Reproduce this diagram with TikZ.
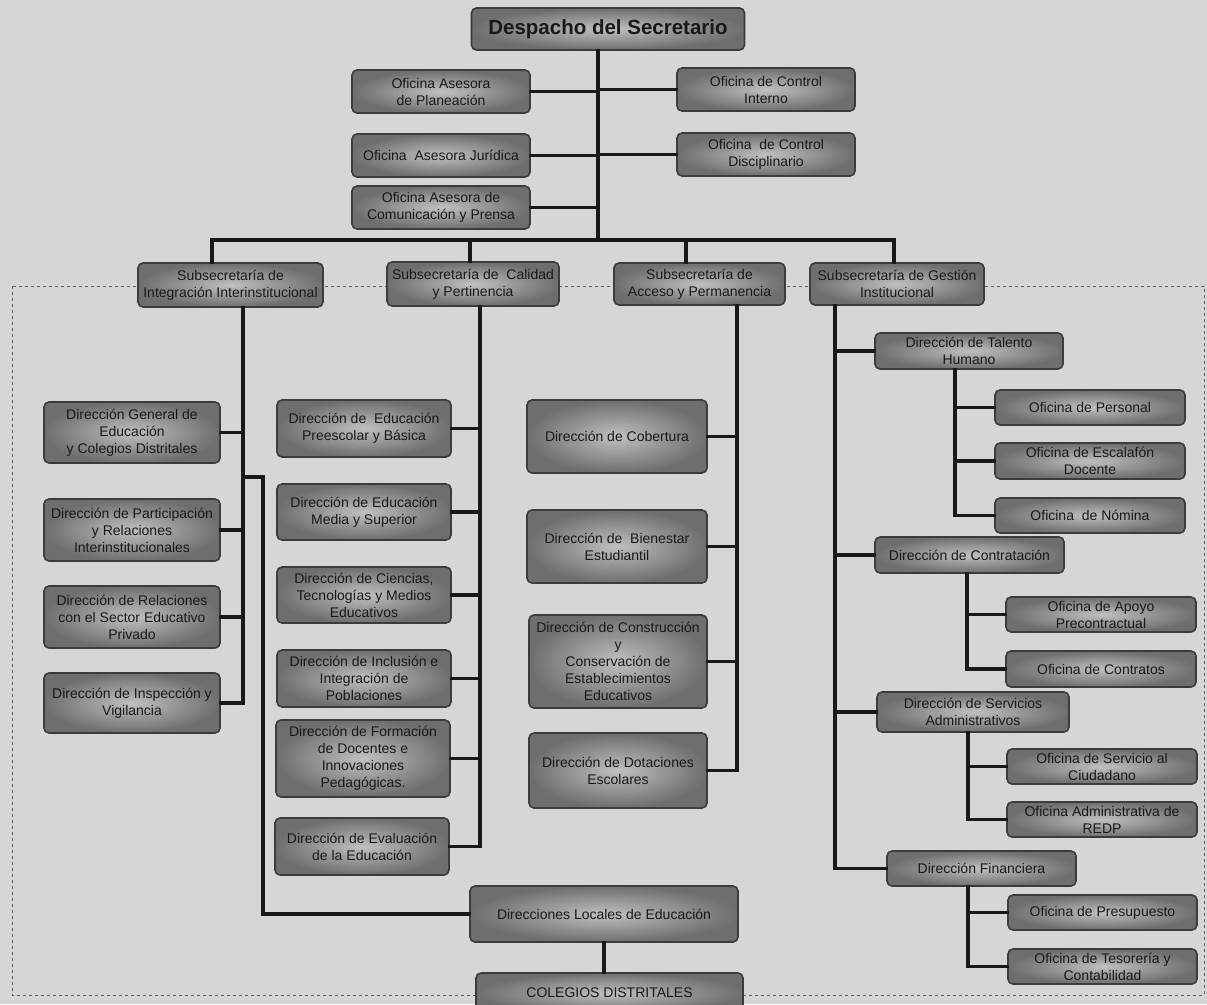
\documentclass[tikz,border=0pt]{standalone}
\usepackage{fontspec}
\setmainfont{Liberation Sans}
\usepackage{tikz}
\definecolor{paper}{RGB}{214,214,212}
\definecolor{boxin}{RGB}{192,192,192}
\definecolor{boxout}{RGB}{110,110,110}
\definecolor{ink}{RGB}{25,25,25}

\begin{document}
\begin{tikzpicture}[x=1pt, y=-1pt,
		box/.style={draw=ink!85, line width=1.6pt, rounded corners=5pt, inner color=boxin, outer color=boxout,
			align=center, text=ink, inner sep=1pt, font=\fontsize{14}{17}\selectfont},
		wire/.style={draw=ink, line width=3.2pt, line cap=rect},
		frame/.style={draw=ink!70, dashed, line width=0.9pt}]
				
				\fill[paper] (0,0) rectangle (1207,1004);
				\useasboundingbox (0,0) rectangle (1207,1004);
				\draw[frame] (12,286) rectangle (1204,995);
				
				% despacho y oficinas asesoras
				\node[box, minimum width=273, minimum height=42, font=\fontsize{20.5}{24}\bfseries] (despacho) at (608,29) {Despacho del Secretario};
				\node[box, minimum width=178, minimum height=43] (planeacion) at (441,91.5) {Oficina Asesora\\de Planeación};
				\node[box, minimum width=178, minimum height=43] (interno) at (766,89.5) {Oficina de Control\\Interno};
				\node[box, minimum width=178, minimum height=43] (juridica) at (441,155.5) {Oficina \ Asesora Jurídica};
				\node[box, minimum width=178, minimum height=43] (disciplinario) at (766,154.5) {Oficina \ de Control\\Disciplinario};
				\node[box, minimum width=178, minimum height=43] (prensa) at (441,207.5) {Oficina Asesora de\\Comunicación y Prensa};
				
				\coordinate (bus) at (598,240);
				\coordinate (bi) at (212,240);
				\coordinate (bc) at (470,240);
				\coordinate (ba) at (686,240);
				\coordinate (bg) at (894,240);
				\draw[wire] (bus |- despacho.south) -- (bus);
				\draw[wire] (planeacion.east) -- (planeacion.east -| bus);
				\draw[wire] (interno.west) -- (interno.west -| bus);
				\draw[wire] (juridica.east) -- (juridica.east -| bus);
				\draw[wire] (disciplinario.west) -- (disciplinario.west -| bus);
				\draw[wire] (prensa.east) -- (prensa.east -| bus);
				\draw[wire] (bi) -- (bg);
				
				% subsecretarias
				\node[box, minimum width=185, minimum height=44] (integ) at (230.5,285) {Subsecretaría de\\Integración Interinstitucional};
				\node[box, minimum width=172, minimum height=44] (calidad) at (473,284) {Subsecretaría de \ Calidad\\y Pertinencia};
				\node[box, minimum width=171, minimum height=42] (acceso) at (699.5,284) {Subsecretaría de\\Acceso y Permanencia};
				\node[box, minimum width=174, minimum height=42] (gestion) at (897,284) {Subsecretaría de Gestión\\Institucional};
				\draw[wire] (bi) -- (bi |- integ.north);
				\draw[wire] (bc) -- (bc |- calidad.north);
				\draw[wire] (ba) -- (ba |- acceso.north);
				\draw[wire] (bg) -- (bg |- gestion.north);
				
				% integracion interinstitucional
				\node[box, minimum width=176, minimum height=61] (dge) at (132,432.5) {Dirección General de\\Educación\\y Colegios Distritales};
				\node[box, minimum width=176, minimum height=62] (dpar) at (132,530) {Dirección de Participación\\y Relaciones\\Interinstitucionales};
				\node[box, minimum width=176, minimum height=62] (drel) at (132,617) {Dirección de Relaciones\\con el Sector Educativo\\Privado};
				\node[box, minimum width=176, minimum height=60] (dinsp) at (132,703) {Dirección de Inspección y\\Vigilancia};
				\coordinate (vi) at (243,0);
				\draw[wire] (vi |- integ.south) -- (vi |- dinsp.east);
				\draw[wire] (dge.east) -- (dge.east -| vi);
				\draw[wire] (dpar.east) -- (dpar.east -| vi);
				\draw[wire] (drel.east) -- (drel.east -| vi);
				\draw[wire] (dinsp.east) -- (dinsp.east -| vi);
				
				% calidad y pertinencia
				\node[box, minimum width=174, minimum height=57] (dpre) at (364,428.5) {Dirección de \ Educación\\Preescolar y Básica};
				\node[box, minimum width=174, minimum height=56] (dmed) at (364,512) {Dirección de Educación\\Media y Superior};
				\node[box, minimum width=174, minimum height=56] (dcie) at (364,595) {Dirección de Ciencias,\\Tecnologías y Medios\\Educativos};
				\node[box, minimum width=174, minimum height=57] (dinc) at (364,678.5) {Dirección de Inclusión e\\Integración de\\Poblaciones};
				\node[box, minimum width=174, minimum height=77] (dfor) at (363,758.5) {Dirección de Formación\\de Docentes e\\Innovaciones\\Pedagógicas.};
				\node[box, minimum width=174, minimum height=57] (deva) at (362,846.5) {Dirección de Evaluación\\de la Educación};
				\coordinate (vc) at (480,0);
				\draw[wire] (vc |- calidad.south) -- (vc |- deva.east);
				\draw[wire] (dpre.east) -- (dpre.east -| vc);
				\draw[wire] (dmed.east) -- (dmed.east -| vc);
				\draw[wire] (dcie.east) -- (dcie.east -| vc);
				\draw[wire] (dinc.east) -- (dinc.east -| vc);
				\draw[wire] (dfor.east) -- (dfor.east -| vc);
				\draw[wire] (deva.east) -- (deva.east -| vc);
				
				% acceso y permanencia
				\node[box, minimum width=180, minimum height=73] (dcob) at (617,436.5) {Dirección de Cobertura};
				\node[box, minimum width=180, minimum height=73] (dbie) at (617,546.5) {Dirección de \ Bienestar\\Estudiantil};
				\node[box, minimum width=178, minimum height=93] (dcon) at (618,661.5) {Dirección de Construcción\\y\\Conservación de\\Establecimientos\\Educativos};
				\node[box, minimum width=178, minimum height=75] (ddot) at (618,770.5) {Dirección de Dotaciones\\Escolares};
				\coordinate (va) at (737,0);
				\draw[wire] (va |- acceso.south) -- (va |- ddot.east);
				\draw[wire] (dcob.east) -- (dcob.east -| va);
				\draw[wire] (dbie.east) -- (dbie.east -| va);
				\draw[wire] (dcon.east) -- (dcon.east -| va);
				\draw[wire] (ddot.east) -- (ddot.east -| va);
				
				% direcciones locales
				\node[box, minimum width=268, minimum height=56] (locales) at (604,914) {Direcciones Locales de Educación};
				\node[box, minimum width=267, minimum height=40] (colegios) at (609.5,993) {COLEGIOS DISTRITALES};
				\coordinate (vl) at (263,477);
				\draw[wire] (vl -| vi) -- (vl) |- (locales.west);
				\draw[wire] (locales.south) -- (locales.south |- colegios.north);
				
				% gestion institucional
				\node[box, minimum width=188, minimum height=36] (dtal) at (969,351) {Dirección de Talento\\Humano};
				\node[box, minimum width=189, minimum height=36] (dctr) at (969.5,555) {Dirección de Contratación};
				\node[box, minimum width=192, minimum height=40] (dser) at (973,712) {Dirección de Servicios\\Administrativos};
				\node[box, minimum width=189, minimum height=35] (dfin) at (981.5,868.5) {Dirección Financiera};
				\coordinate (vg) at (835,0);
				\draw[wire] (vg |- gestion.south) -- (vg |- dfin.west);
				\draw[wire] (dtal.west) -- (dtal.west -| vg);
				\draw[wire] (dctr.west) -- (dctr.west -| vg);
				\draw[wire] (dser.west) -- (dser.west -| vg);
				\draw[wire] (dfin.west) -- (dfin.west -| vg);
				
				\node[box, minimum width=190, minimum height=35] (opers) at (1090,407.5) {Oficina de Personal};
				\node[box, minimum width=190, minimum height=36] (oesc) at (1090,461) {Oficina de Escalafón\\Docente};
				\node[box, minimum width=190, minimum height=35] (onom) at (1090,515.5) {Oficina \ de Nómina};
				\coordinate (vt) at (955,0);
				\draw[wire] (vt |- dtal.south) -- (vt |- onom.west);
				\draw[wire] (opers.west) -- (opers.west -| vt);
				\draw[wire] (oesc.west) -- (oesc.west -| vt);
				\draw[wire] (onom.west) -- (onom.west -| vt);
				
				\node[box, minimum width=190, minimum height=35] (oapo) at (1101,614.5) {Oficina de Apoyo\\Precontractual};
				\node[box, minimum width=190, minimum height=36] (octr) at (1101,669) {Oficina de Contratos};
				\coordinate (vk) at (967,0);
				\draw[wire] (vk |- dctr.south) -- (vk |- octr.west);
				\draw[wire] (oapo.west) -- (oapo.west -| vk);
				\draw[wire] (octr.west) -- (octr.west -| vk);
				
				\node[box, minimum width=190, minimum height=35] (oser) at (1102,766.5) {Oficina de Servicio al\\Ciudadano};
				\node[box, minimum width=190, minimum height=35] (oadm) at (1102,819.5) {Oficina Administrativa de\\REDP};
				\coordinate (vs) at (968,0);
				\draw[wire] (vs |- dser.south) -- (vs |- oadm.west);
				\draw[wire] (oser.west) -- (oser.west -| vs);
				\draw[wire] (oadm.west) -- (oadm.west -| vs);
				
				\node[box, minimum width=189, minimum height=35] (opre) at (1102.5,912.5) {Oficina de Presupuesto};
				\node[box, minimum width=189, minimum height=35] (otes) at (1102.5,966.5) {Oficina de Tesorería y\\Contabilidad};
				\coordinate (vf) at (968,0);
				\draw[wire] (vf |- dfin.south) -- (vf |- otes.west);
				\draw[wire] (opre.west) -- (opre.west -| vf);
				\draw[wire] (otes.west) -- (otes.west -| vf);
				
			\end{tikzpicture}
\end{document}
